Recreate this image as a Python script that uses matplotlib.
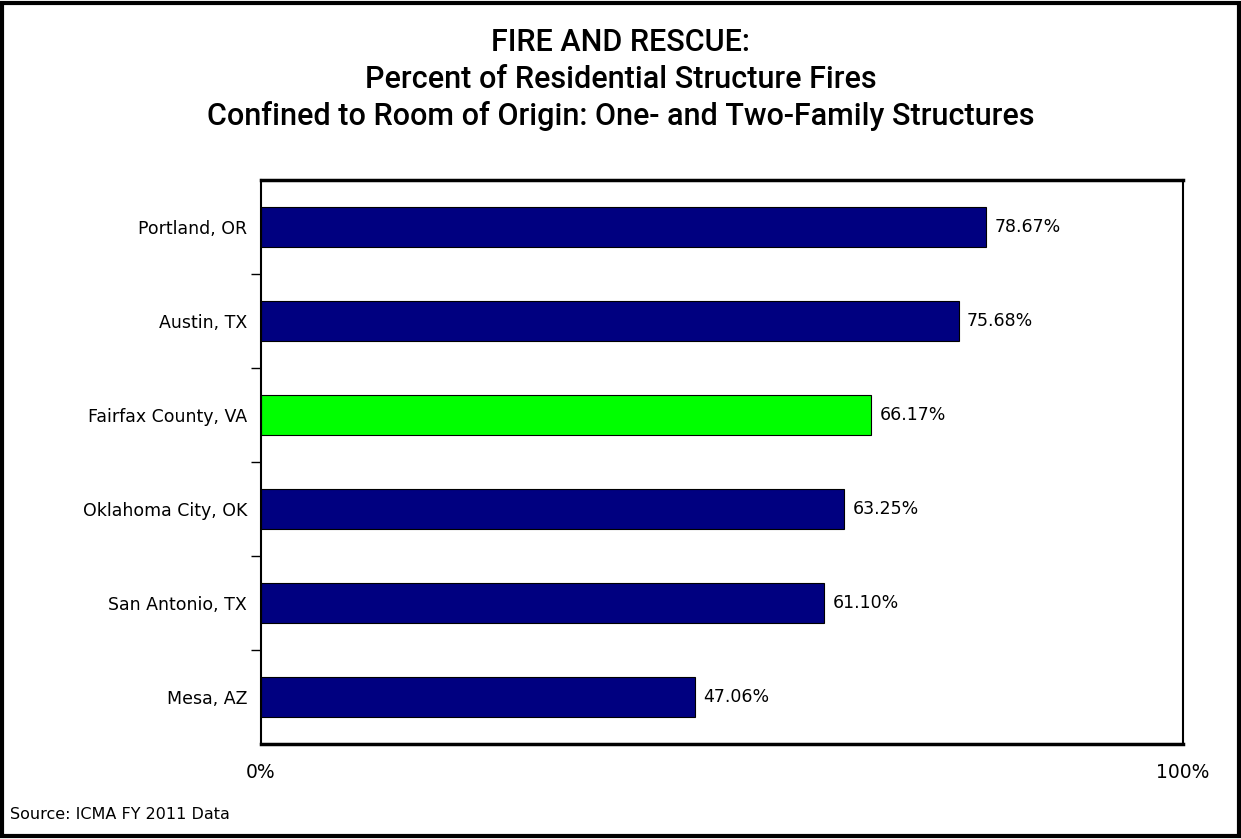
import matplotlib
matplotlib.use('Agg')
import matplotlib.pyplot as plt
from matplotlib.patches import Rectangle

# データ
cities = ['Portland, OR', 'Austin, TX', 'Fairfax County, VA',
          'Oklahoma City, OK', 'San Antonio, TX', 'Mesa, AZ']
values = [78.67, 75.68, 66.17, 63.25, 61.10, 47.06]
colors = ['#000080', '#000080', '#00FF00', '#000080', '#000080', '#000080']
xtick_vals = [0, 100]
xtick_labels = ['0%', '100%']

plt.rcParams['font.family'] = ['DejaVu Sans']

fig = plt.figure(figsize=(12.41, 8.39), dpi=100)
ax = fig.add_axes([0.2103, 0.1132, 0.7430, 0.6723])

ypos = list(range(len(cities)))
ax.barh(ypos, values, height=0.42, color=colors, edgecolor='black', linewidth=0.8)
for y, v in zip(ypos, values):
    ax.text(v + 0.9, y, '%.2f%%' % v, va='center', ha='left', fontsize=12.5)

ax.set_ylim(len(cities) - 0.5, -0.5)
ax.set_xlim(0, 100)
ax.set_yticks(ypos)
ax.set_yticklabels(cities, fontsize=12.5)
ax.tick_params(axis='y', length=0, pad=10)
# 区切り目盛り
ax.set_yticks([i + 0.5 for i in range(len(cities) - 1)], minor=True)
ax.tick_params(axis='y', which='minor', length=7, width=1, direction='out')
ax.set_xticks(xtick_vals)
ax.set_xticklabels(xtick_labels, fontsize=13.5)
ax.tick_params(axis='x', length=0, pad=14)
for s in ax.spines.values():
    s.set_linewidth(1.5)
ax.spines['top'].set_linewidth(2.5)
ax.spines['bottom'].set_linewidth(2.5)

tfont = dict(family=['Roboto', 'DejaVu Sans'], weight='medium', fontsize=22,
             ha='center', va='center')
fig.text(0.5, 0.949, 'FIRE AND RESCUE:', **tfont)
fig.text(0.5, 0.905, 'Percent of Residential Structure Fires', **tfont)
fig.text(0.5, 0.862, 'Confined to Room of Origin: One- and Two-Family Structures', **tfont)
fig.text(0.008, 0.029, 'Source: ICMA FY 2011 Data', ha='left', va='center', fontsize=11.5)

# 外枠
fig.patches.append(Rectangle((0.002, 0.003), 0.996, 0.994, transform=fig.transFigure,
                             fill=False, edgecolor='black', linewidth=3))

fig.savefig('out.png', dpi=100)
